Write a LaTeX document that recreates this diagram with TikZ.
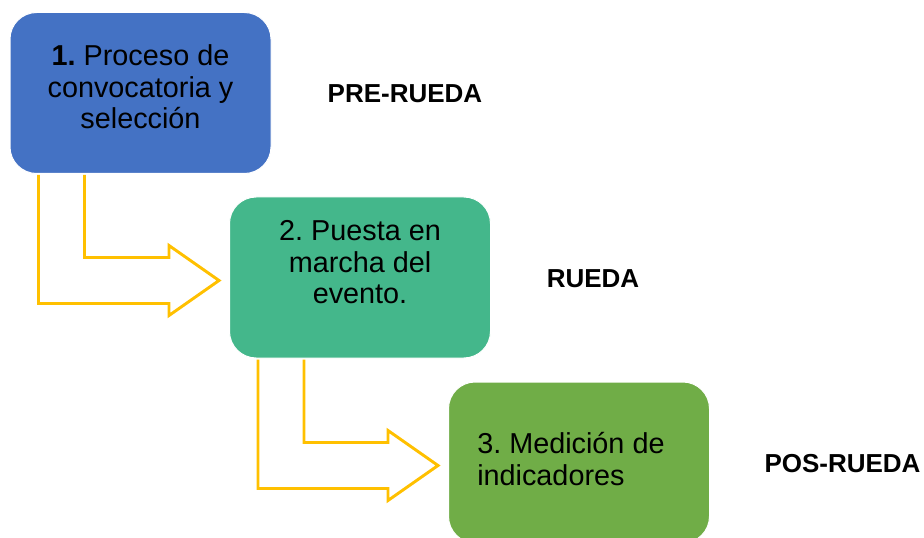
\documentclass[tikz,border=0pt]{standalone}
\usepackage{fontspec}
\setmainfont{Liberation Sans}
\usetikzlibrary{calc}
\definecolor{boxblue}{HTML}{4472C4}
\definecolor{boxteal}{HTML}{44B78B}
\definecolor{boxgreen}{HTML}{70AD47}
\definecolor{flowgold}{HTML}{FFC000}
\frenchspacing

\begin{document}
\begin{tikzpicture}[x=0.75pt, y=-0.75pt,
    box/.style={rectangle, rounded corners=20pt, draw=white, line width=0.75pt,
      minimum width=195.75pt, minimum height=120.75pt, inner sep=0pt},
    txt/.style={inner sep=0pt, font=\fontsize{21.6}{23.6}\selectfont},
    phase/.style={inner sep=0pt, font=\fontsize{19.5}{22}\selectfont\bfseries},
    flow/.style={draw=flowgold, line width=2.2pt, line join=miter}]
      \useasboundingbox (0, 0) rectangle (924, 538);
      \foreach \x/\y/\c [count=\i] in {140.5/93/boxblue, 360/277.5/boxteal, 579/462.5/boxgreen} {
        \node[box, fill=\c] (b\i) at (\x, \y) {};
      }
      \node[txt, align=center] (t1) at (140.5, 87) {\textbf{1.} Proceso de\\convocatoria y\\selección};
      \node[txt, align=center] (t2) at (360, 262.5) {2. Puesta en\\marcha del\\evento.};
      \node[txt, align=left, anchor=west] (t3) at (477, 459) {3. Medición de\\indicadores};
      \node[phase] (p1) at (405, 94) {PRE-RUEDA};
      \node[phase] (p2) at (593, 279) {RUEDA};
      \node[phase] (p3) at (842.5, 464) {POS-RUEDA};
      \foreach \i/\j in {1/2, 2/3} {
        \coordinate (tip\i) at ($(b\j.west)+(-10, 3)$);
        \draw[flow] ($(b\i.south west)+(29, 1)$) |- ($(tip\i)+(-50, 23)$) -- ++(0, 12)
          -- (tip\i) -- ++(-50, -35) -- ++(0, 12) -| ($(b\i.south west)+(75, 1)$);
      }
    \end{tikzpicture}
\end{document}
